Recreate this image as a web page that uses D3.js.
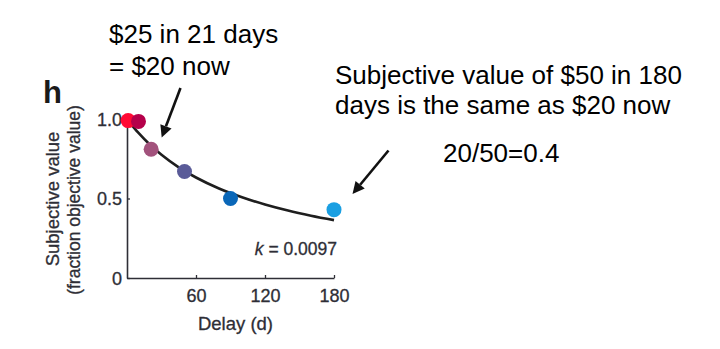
<!DOCTYPE html>
<html>
<head>
<meta charset="utf-8">
<script src="https://cdn.jsdelivr.net/npm/d3@7"></script>
<style>
  html, body { margin: 0; padding: 0; background: #fff; }
  svg { display: block; font-family: "Liberation Sans", Arial, Helvetica, sans-serif; }
</style>
</head>
<body>
<svg id="chart" width="720" height="349"></svg>
<script>
// ---- data ----
const pointDelays = [1, 10, 21, 50, 90, 180];
const pointValues = [0.99, 0.985, 0.81, 0.67, 0.5, 0.43];
const pointColors = ["#ff0a35", "#b5004a", "#a2527c", "#5a5b98", "#0a67b8", "#1a9fe2"];
const curveDelays = [1, 10, 20, 30, 45, 60, 80, 100, 120, 140, 160, 180];
const curveValues = [0.99, 0.912, 0.838, 0.775, 0.696, 0.632, 0.563, 0.508, 0.462, 0.424, 0.392, 0.364];
const xTickValues = [60, 120, 180];
const xTickLabels = ["60", "120", "180"];
const yTickValues = [0, 0.5, 1.0];
const yTickLabels = ["0", "0.5", "1.0"];
const kLabel = "0.0097";

const svg = d3.select("#chart");
const x = d3.scaleLinear().domain([0, 180]).range([127, 334]);
const y = d3.scaleLinear().domain([0, 1]).range([278, 119]);
const axisColor = "#2e2e36";

// axes
const xAxis = d3.axisBottom(x)
  .tickValues(xTickValues)
  .tickFormat((d, i) => xTickLabels[i])
  .tickSizeInner(-3).tickSizeOuter(0).tickPadding(11);
const gx = svg.append("g").attr("transform", `translate(0,${y(0)})`).call(xAxis);

const yAxis = d3.axisLeft(y)
  .tickValues(yTickValues)
  .tickFormat((d, i) => yTickLabels[i])
  .tickSizeInner(-3).tickSizeOuter(0).tickPadding(5);
const gy = svg.append("g").attr("transform", `translate(${x(0)},0)`).call(yAxis);

[gx, gy].forEach(g => {
  g.select(".domain").attr("stroke", axisColor).attr("stroke-width", 1.6);
  g.selectAll(".tick line").attr("stroke", axisColor).attr("stroke-width", 1.3);
  g.selectAll(".tick text").attr("fill", axisColor).attr("font-size", 18)
    .attr("stroke", axisColor).attr("stroke-width", 0.3)
    .attr("font-family", "'Liberation Sans', Arial, sans-serif");
});
gy.selectAll(".tick text").attr("dy", "0.36em");

// curve
const line = d3.line().x((d, i) => x(curveDelays[i])).y(d => y(d)).curve(d3.curveMonotoneX);
svg.append("path").datum(curveValues)
  .attr("d", line).attr("fill", "none")
  .attr("stroke", "#1e1e1e").attr("stroke-width", 2.6);

// points
svg.append("g").selectAll("circle").data(pointValues).join("circle")
  .attr("cx", (d, i) => x(pointDelays[i]))
  .attr("cy", d => y(d))
  .attr("r", 7.5)
  .attr("fill", (d, i) => pointColors[i]);

// axis titles
const titles = svg.append("g").attr("fill", axisColor).attr("stroke", axisColor).attr("stroke-width", 0.3);
titles.append("text").attr("x", 235.5).attr("y", 330).attr("text-anchor", "middle")
  .attr("font-size", 18.5).text("Delay (d)");
titles.append("text").attr("transform", "translate(59,199) rotate(-90)")
  .attr("text-anchor", "middle").attr("font-size", 18.5)
  .text("Subjective value");
titles.append("text").attr("transform", "translate(80,200) rotate(-90)")
  .attr("text-anchor", "middle").attr("font-size", 17.5)
  .text("(fraction objective value)");

// k label
const kt = titles.append("text").attr("x", 337).attr("y", 255).attr("text-anchor", "end")
  .attr("font-size", 17.5);
kt.append("tspan").attr("font-style", "italic").text("k");
kt.append("tspan").text(" = " + kLabel);

// panel letter
svg.append("text").attr("x", 43).attr("y", 103).attr("font-size", 31)
  .attr("font-weight", "bold").attr("fill", "#1a1a1a").text("h");

// annotations
const ann = svg.append("g").attr("font-size", 26).attr("fill", "#000");
ann.append("text").attr("x", 109).attr("y", 43).text("$25 in 21 days");
ann.append("text").attr("x", 109).attr("y", 75).text("= $20 now");
ann.append("text").attr("x", 335).attr("y", 83.5).text("Subjective value of $50 in 180");
ann.append("text").attr("x", 335).attr("y", 114).text("days is the same as $20 now");
ann.append("text").attr("x", 443).attr("y", 161.5).text("20/50=0.4");

// arrows
function arrow(x1, y1, x2, y2) {
  const ang = Math.atan2(y2 - y1, x2 - x1);
  const hl = 12, hw = 6;
  const bx = x2 - hl * Math.cos(ang), by = y2 - hl * Math.sin(ang);
  svg.append("line").attr("x1", x1).attr("y1", y1).attr("x2", bx).attr("y2", by)
    .attr("stroke", "#111").attr("stroke-width", 2.6);
  const px = -Math.sin(ang) * hw, py = Math.cos(ang) * hw;
  svg.append("path")
    .attr("d", `M${x2},${y2}L${bx + px},${by + py}L${bx - px},${by - py}Z`)
    .attr("fill", "#111");
}
arrow(180.5, 88, 161.7, 137.5);
arrow(388.5, 150.5, 352.5, 194);
</script>
</body>
</html>
